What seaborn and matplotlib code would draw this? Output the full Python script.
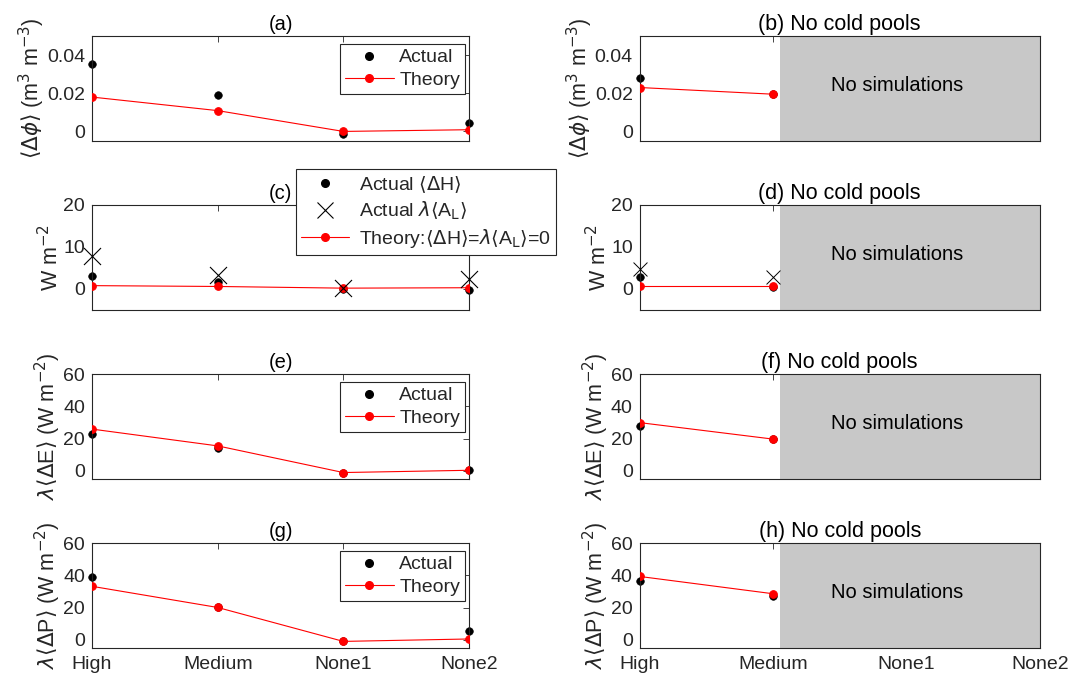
import matplotlib
matplotlib.use("Agg")
import matplotlib.pyplot as plt
from matplotlib.lines import Line2D
import seaborn as sns
import pandas as pd

sns.set_theme(style="white")
plt.rcParams['font.family'] = ['Liberation Sans', 'DejaVu Sans']
plt.rcParams['mathtext.fontset'] = 'dejavusans'

cases = ["High", "Medium", "None1", "None2"]
cases_cp = ["High", "Medium"]

# (a)/(b) moisture anomaly
phi_actual = [0.0353, 0.0193, -0.0016, 0.0044]
phi_theory = [0.018, 0.0109, 0.0, 0.0009]
phi_actual_ncp = [0.028, 0.0195]
phi_theory_ncp = [0.023, 0.0195]

# (c)/(d) sensible heat and AL
dh_actual = [3.1, 1.7, 0.1, -0.3]
al_actual = [7.9, 3.3, 0.3, 2.4]
dh_theory = [0.8, 0.6, 0.2, 0.3]
dh_actual_ncp = [2.8, 0.5]
al_actual_ncp = [4.8, 2.8]
dh_theory_ncp = [0.7, 0.7]

# (e)/(f) evaporation
de_actual = [23.0, 14.0, -1.0, 0.5]
de_theory = [25.9, 15.5, -1.0, 0.4]
de_actual_ncp = [27.7, 19.7]
de_theory_ncp = [29.9, 19.7]

# (g)/(h) precipitation
dp_actual = [39.0, 20.5, -0.8, 5.4]
dp_theory = [33.2, 20.1, -0.9, 0.6]
dp_actual_ncp = [36.8, 27.3]
dp_theory_ncp = [39.3, 28.6]

fs = 14
dark = "#262626"

fig = plt.figure(figsize=(10.88, 6.84), dpi=100)
lefts = [0.0846, 0.588]
widths = [0.3465, 0.3676]
bottoms = [0.7939, 0.5468, 0.2997, 0.0526]
height = 0.1535

ylabels = [r"$\langle\Delta\phi\rangle$ (m$^3$ m$^{-3}$)", r"W m$^{-2}$",
           r"$\lambda\langle\Delta$E$\rangle$ (W m$^{-2}$)",
           r"$\lambda\langle\Delta$P$\rangle$ (W m$^{-2}$)"]
ylims = [(-0.005, 0.05), (-5, 20), (-5, 60), (-5, 60)]
yticks = [[0, 0.02, 0.04], [0, 10, 20], [0, 20, 40, 60], [0, 20, 40, 60]]
ytl = [["0", "0.02", "0.04"], ["0", "10", "20"], ["0", "20", "40", "60"], ["0", "20", "40", "60"]]
titles_l = ["(a)", "(c)", "(e)", "(g)"]
titles_r = ["(b) No cold pools", "(d) No cold pools", "(f) No cold pools", "(h) No cold pools"]

left_data = [(phi_actual, phi_theory), (dh_actual, dh_theory),
             (de_actual, de_theory), (dp_actual, dp_theory)]
right_data = [(phi_actual_ncp, phi_theory_ncp), (dh_actual_ncp, dh_theory_ncp),
              (de_actual_ncp, de_theory_ncp), (dp_actual_ncp, dp_theory_ncp)]


def style_axis(ax, r):
    ax.set_xlim(0, 3)
    ax.set_ylim(*ylims[r])
    ax.set_xticks(range(4))
    if r == 3:
        ax.set_xticklabels(cases, fontsize=fs, color=dark)
    else:
        ax.set_xticklabels([])
    ax.set_yticks(yticks[r])
    ax.set_yticklabels(ytl[r], fontsize=fs, color=dark)
    ax.tick_params(direction="in", length=4, width=0.6, color=dark,
                   top=True, right=True, pad=5)
    ax.tick_params(axis="x", pad=6)
    for s in ax.spines.values():
        s.set_color(dark)
        s.set_linewidth(0.8)
    ax.set_ylabel(ylabels[r], fontsize=15.5, color=dark, labelpad=0)
    ax.set_xlabel("")


for r in range(4):
    # left column: all four cases
    ax = fig.add_axes([lefts[0], bottoms[r], widths[0], height])
    actual, theory = left_data[r]
    df = pd.DataFrame({"case": cases, "actual": actual, "theory": theory})
    sns.lineplot(data=df, x="case", y="theory", color="red", lw=0.8, marker="o",
                 markersize=5.5, markeredgecolor="red", sort=False, ax=ax, zorder=3)
    sns.scatterplot(data=df, x="case", y="actual", color="black", s=30,
                    edgecolor="black", ax=ax, zorder=2, clip_on=False)
    if r == 1:
        df["al"] = al_actual
        sns.scatterplot(data=df, x="case", y="al", marker="x", color="black", s=150,
                        linewidth=0.8, ax=ax, zorder=4, clip_on=False)
    style_axis(ax, r)
    ax.set_title(titles_l[r], fontsize=fs + 0.5, color="black", pad=4)
    dot = Line2D([], [], color="black", marker="o", ls="none", markersize=5.5)
    red = Line2D([], [], color="red", lw=0.8, marker="o", markersize=5.5)
    if r == 1:
        cross = Line2D([], [], color="black", marker="x", ls="none", markersize=12, mew=0.8)
        leg = ax.legend([dot, cross, red],
                        [r"Actual $\langle\Delta$H$\rangle$", r"Actual $\lambda\langle$A$_{\rm L}\rangle$",
                         r"Theory:$\langle\Delta$H$\rangle$=$\lambda\langle$A$_{\rm L}\rangle$=0"],
                        loc="upper left", bbox_to_anchor=(0.541, 1.343), fontsize=fs,
                        handlelength=2.5, borderpad=0.25, labelspacing=0.25, handletextpad=0.5,
                        borderaxespad=0, fancybox=False, framealpha=1)
    else:
        leg = ax.legend([dot, red], ["Actual", "Theory"], loc="upper left",
                        bbox_to_anchor=(0.658, 0.924), fontsize=fs,
                        handlelength=2.5, borderpad=0.25, labelspacing=0.25, handletextpad=0.3,
                        borderaxespad=0, fancybox=False, framealpha=1)
    leg.get_frame().set_edgecolor(dark)
    leg.get_frame().set_linewidth(0.8)
    leg.set_zorder(10)

    # right column: no cold pools, only two cases
    ax = fig.add_axes([lefts[1], bottoms[r], widths[1], height])
    actual, theory = right_data[r]
    dfr = pd.DataFrame({"case": cases_cp, "actual": actual, "theory": theory})
    sns.scatterplot(data=dfr, x="case", y="actual", color="black", s=30,
                    edgecolor="black", ax=ax, zorder=2, clip_on=False)
    sns.lineplot(data=dfr, x="case", y="theory", color="red", lw=0.8, marker="o",
                 markersize=5.5, markeredgecolor="red", sort=False, ax=ax, zorder=3)
    if r == 1:
        dfr["al"] = al_actual_ncp
        sns.scatterplot(data=dfr, x="case", y="al", marker="x", color="black", s=100,
                        linewidth=0.7, ax=ax, zorder=4, clip_on=False)
    ax.axvspan(1.05, 3, color="#c8c8c8", zorder=1, lw=0)
    ax.text(1.93, sum(ylims[r]) / 2 + (ylims[r][1] - ylims[r][0]) * 0.03,
            "No simulations", ha="center", va="center", fontsize=fs + 0.5,
            color="black", zorder=5)
    style_axis(ax, r)
    ax.set_title(titles_r[r], fontsize=fs + 1.5, color="black", pad=4)

fig.savefig("out.png", dpi=100)
